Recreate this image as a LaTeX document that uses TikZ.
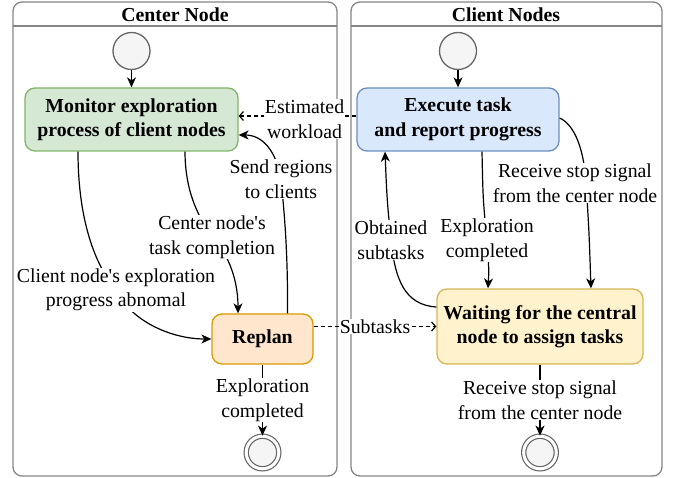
\documentclass[tikz,border=0pt]{standalone}
\usepackage{fontspec}
\setmainfont{Liberation Serif}
\usetikzlibrary{arrows.meta}

\definecolor{lanegray}{HTML}{858585}
\definecolor{ringgray}{HTML}{666666}
\definecolor{ringfill}{HTML}{F5F5F5}
\definecolor{monitorfill}{HTML}{D5E8D4}
\definecolor{monitorline}{HTML}{82B366}
\definecolor{executefill}{HTML}{DAE8FC}
\definecolor{executeline}{HTML}{6C8EBF}
\definecolor{replanfill}{HTML}{FFE6CC}
\definecolor{replanline}{HTML}{D79B00}
\definecolor{waitfill}{HTML}{FFF2CC}
\definecolor{waitline}{HTML}{D6B656}

\newcommand{\diagfont}{\fontsize{19.8}{24.5}\selectfont}

\tikzset{
	lane/.style={draw=lanegray, line width=1.3pt, rounded corners=9pt},
	lanetitle/.style={font=\diagfont\bfseries, inner sep=0pt},
	startstate/.style={circle, draw=ringgray, fill=ringfill, line width=1.3pt, minimum size=37pt, inner sep=0pt},
	endstate/.style={circle, draw=ringgray, fill=ringfill, line width=1.2pt, double=white, double distance=3pt, minimum size=32.6pt, inner sep=0pt},
	state/.style={rectangle, rounded corners=10pt, line width=1.3pt, align=center, font=\diagfont\bfseries, inner sep=0pt},
	lbl/.style={fill=white, align=center, inner sep=1pt, font=\diagfont},
	flow/.style={line width=1.2pt, -{Stealth[length=10pt, width=9pt, inset=3pt]}},
	msg/.style={line width=1.2pt, dash pattern=on 4pt off 3pt, -{Straight Barb[length=4pt, width=9pt]}}
}

\begin{document}
\begin{tikzpicture}[x=1pt, y=-1pt]
			\useasboundingbox (0,0) rectangle (683,478);
			
			\draw[lane] (13,2) rectangle (337,476);
			\draw[draw=lanegray, line width=1.3pt] (13,26)--(337,26);
			\node(centertitle) [lanetitle] at (175,15){Center Node};
			
			\draw[lane] (351,2) rectangle (662,476);
			\draw[draw=lanegray, line width=1.3pt] (351,26)--(662,26);
			\node(clienttitle) [lanetitle] at (506,15){Client Nodes};
			
			\node(startleft) [startstate] at (131.5,51){};
			\node(startright) [startstate] at (458,51){};
			\node(endleft) [endstate] at (262.5,452.5){};
			\node(endright) [endstate] at (540,452.5){};
			
			\node(monitor) [state, draw=monitorline, fill=monitorfill, minimum width=213pt, minimum height=63pt] at (131.5,119.5){Monitor exploration\\process of client nodes};
			\node(execute) [state, draw=executeline, fill=executefill, minimum width=202pt, minimum height=63pt] at (458,119.5){Execute task\\and report progress};
			\node(replan) [state, draw=replanline, fill=replanfill, minimum width=101pt, minimum height=50pt] at (262.5,339){Replan};
			\node(waiting) [state, draw=waitline, fill=waitfill, minimum width=206pt, minimum height=75pt] at (540,326.5){Waiting for the central\\node to assign tasks};
			
			\draw[flow] (startleft)--(monitor);
			\draw[flow] (startright)--(execute);
			
			\draw[msg] ([yshift=3.5pt]execute.west)-- node[lbl, pos=0.44, yshift=-3pt]{Estimated\\workload} ([yshift=3.5pt]monitor.east);
			\draw[msg] (replan.east |- waiting.west)-- node[lbl]{Subtasks} (waiting.west);
			
			\draw[flow] ([xshift=-53.5pt]monitor.south) .. controls (78,220) and (95,265) .. (116,290) node[lbl]{Client node\textquotesingle s exploration\\progress abnomal} .. controls (130,320) and (170,339) .. (replan.west);
			\draw[flow] ([xshift=53.5pt]monitor.south) .. controls (185,200) and (205,225) .. (212,237) node[lbl]{Center node\textquotesingle s\\task completion} .. controls (225,250) and (238,275) .. ([xshift=-24.5pt]replan.north);
			\draw[flow] ([xshift=25pt]replan.north) .. controls (288,250) and (284,210) .. (281,179) node[lbl]{Send regions\\to clients} .. controls (276,150) and (262,135) .. ([yshift=-15.5pt]monitor.east);
			\draw[flow] (replan)-- node[lbl]{Exploration\\completed} (endleft);
			
			\draw[flow] ([yshift=19.5pt]waiting.west) .. controls (405,305) and (395,280) .. (391,240) node[lbl]{Obtained\\subtasks} .. controls (387,200) .. ([xshift=-73pt]execute.south);
			\draw[flow] ([xshift=24pt]execute.south) .. controls (483,200) .. (487,240) node[lbl]{Exploration\\completed} .. controls (489,270) .. ([xshift=-52pt]waiting.north);
			\draw[flow] ([yshift=1.5pt]execute.east) .. controls (575,125) and (584,150) .. (586,183) node[lbl, xshift=-11pt]{Receive stop signal\\from the center node} .. controls (589,230) .. ([xshift=51pt]waiting.north);
			\draw[flow] (waiting)-- node[lbl]{Receive stop signal\\from the center node} (endright);
			
		\end{tikzpicture}
\end{document}
